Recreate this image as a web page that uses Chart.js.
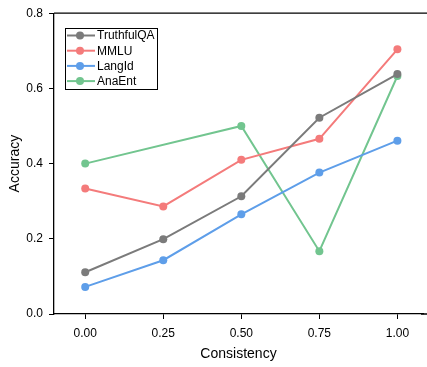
<!DOCTYPE html>
<html>
<head>
<meta charset="utf-8">
<script src="https://cdn.jsdelivr.net/npm/chart.js@4"></script>
<style>
  html, body { margin: 0; padding: 0; background: #fff; }
  #wrap { width: 427px; height: 367px; }
</style>
</head>
<body>
<div id="wrap"><canvas id="chart"></canvas></div>
<script>
// Data
const consistency = [0.00, 0.25, 0.50, 0.75, 1.00];
const truthfulQA = [0.111, 0.199, 0.313, 0.522, 0.638];
const mmlu = [0.334, 0.286, 0.410, 0.466, 0.704];
const langId = [0.072, 0.143, 0.265, 0.376, 0.461];
const anaEnt = [0.400, null, 0.500, 0.167, 0.633];
const yTicks = [0.0, 0.2, 0.4, 0.6, 0.8];

const seriesNames = ['TruthfulQA', 'MMLU', 'LangId', 'AnaEnt'];
const seriesValues = [truthfulQA, mmlu, langId, anaEnt];
const colors = ['#7b7b7b', '#f47b7b', '#5e9ee9', '#72c58f'];

const font = "'Liberation Sans', Arial, sans-serif";

const datasets = seriesNames.map((name, i) => ({
    label: name,
    data: consistency.map((x, j) => ({ x: x, y: seriesValues[i][j] })),
    borderColor: colors[i],
    backgroundColor: colors[i],
    borderWidth: 2,
    pointRadius: 4,
    pointHoverRadius: 4,
    pointBorderWidth: 0,
    spanGaps: true,
    tension: 0
}));

// top frame line + boxed legend inside the plot
const framePlugin = {
    id: 'frame',
    afterDraw(chart) {
        const ctx = chart.ctx;
        const a = chart.chartArea;
        const xAxis = chart.scales.x;
        ctx.save();
        ctx.strokeStyle = '#000';
        ctx.lineWidth = 1.3;
        ctx.beginPath();
        ctx.moveTo(a.left, a.top);
        ctx.lineTo(chart.width, a.top);
        // bottom axis runs to the edge too
        ctx.moveTo(a.right - 2, xAxis.top);
        ctx.lineTo(chart.width, xAxis.top);
        ctx.stroke();

        // legend
        const bx = 65.5, by = 28.5, bw = 92, bh = 61;
        ctx.fillStyle = '#fff';
        ctx.fillRect(bx, by, bw, bh);
        ctx.lineWidth = 1;
        ctx.strokeRect(bx, by, bw, bh);
        ctx.font = '12px ' + font;
        ctx.textBaseline = 'middle';
        chart.data.datasets.forEach((ds, i) => {
            const y = 35.5 + i * 15.2;
            ctx.strokeStyle = ds.borderColor;
            ctx.lineWidth = 2;
            ctx.beginPath();
            ctx.moveTo(67, y);
            ctx.lineTo(95, y);
            ctx.stroke();
            ctx.fillStyle = ds.borderColor;
            ctx.beginPath();
            ctx.arc(80, y, 4, 0, Math.PI * 2);
            ctx.fill();
            ctx.fillStyle = '#000';
            ctx.fillText(ds.label, 97, y + 0.5);
        });
        ctx.restore();
    }
};

new Chart(document.getElementById('chart'), {
    type: 'line',
    data: { datasets: datasets },
    options: {
        responsive: true,
        maintainAspectRatio: false,
        animation: false,
        layout: { padding: { top: 11, right: 0, left: 0, bottom: 0 } },
        plugins: {
            legend: { display: false },
            tooltip: { enabled: false }
        },
        scales: {
            x: {
                type: 'linear',
                min: -0.1,
                max: 1.082,
                afterBuildTicks(scale) {
                    scale.ticks = consistency.map(v => ({ value: v }));
                },
                afterFit(scale) { scale.height = 53; },
                grid: { drawOnChartArea: false, drawTicks: true, tickLength: 5, color: '#000', lineWidth: 1 },
                border: { display: true, color: '#000', width: 1.3 },
                ticks: {
                    color: '#000',
                    padding: 7,
                    maxRotation: 0,
                    font: { family: font, size: 12 },
                    callback: v => Number(v).toFixed(2)
                },
                title: {
                    display: true,
                    text: 'Consistency',
                    color: '#000',
                    padding: { top: 0, bottom: 4 },
                    font: { family: font, size: 14 }
                }
            },
            y: {
                min: 0,
                max: 0.8,
                afterBuildTicks(scale) {
                    scale.ticks = yTicks.map(v => ({ value: v }));
                },
                afterFit(scale) { scale.width = 54; },
                grid: { drawOnChartArea: false, drawTicks: true, tickLength: 5, color: '#000', lineWidth: 1 },
                border: { display: true, color: '#000', width: 1.3 },
                ticks: {
                    color: '#000',
                    padding: 6,
                    font: { family: font, size: 12 },
                    callback: v => Number(v).toFixed(1)
                },
                title: {
                    display: true,
                    text: 'Accuracy',
                    color: '#000',
                    padding: { top: 7, bottom: 0 },
                    font: { family: font, size: 14 }
                }
            }
        }
    },
    plugins: [framePlugin]
});
</script>
</body>
</html>
